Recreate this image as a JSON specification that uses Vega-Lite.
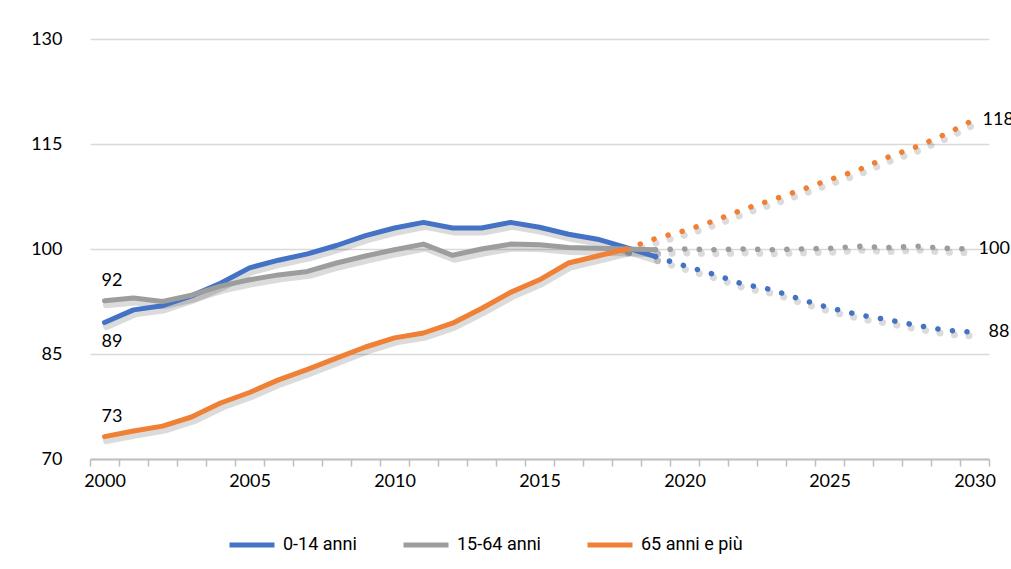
{
  "$schema": "https://vega.github.io/schema/vega-lite/v6.json",
  "width": 899,
  "height": 420,
  "autosize": {"type": "none"},
  "padding": {"left": 90, "top": 39, "right": 22, "bottom": 110},
  "background": "white",
  "config": {"view": {"stroke": null}, "font": "Lato"},
  "datasets": {
    "series": [
      {"y": 2000, "v": 89.5, "s": "0-14 anni", "k": "obs"},
      {"y": 2001, "v": 91.3, "s": "0-14 anni", "k": "obs"},
      {"y": 2002, "v": 91.9, "s": "0-14 anni", "k": "obs"},
      {"y": 2003, "v": 93.3, "s": "0-14 anni", "k": "obs"},
      {"y": 2004, "v": 95.1, "s": "0-14 anni", "k": "obs"},
      {"y": 2005, "v": 97.3, "s": "0-14 anni", "k": "obs"},
      {"y": 2006, "v": 98.4, "s": "0-14 anni", "k": "obs"},
      {"y": 2007, "v": 99.3, "s": "0-14 anni", "k": "obs"},
      {"y": 2008, "v": 100.5, "s": "0-14 anni", "k": "obs"},
      {"y": 2009, "v": 101.9, "s": "0-14 anni", "k": "obs"},
      {"y": 2010, "v": 103.0, "s": "0-14 anni", "k": "obs"},
      {"y": 2011, "v": 103.8, "s": "0-14 anni", "k": "obs"},
      {"y": 2012, "v": 103.0, "s": "0-14 anni", "k": "obs"},
      {"y": 2013, "v": 103.0, "s": "0-14 anni", "k": "obs"},
      {"y": 2014, "v": 103.8, "s": "0-14 anni", "k": "obs"},
      {"y": 2015, "v": 103.1, "s": "0-14 anni", "k": "obs"},
      {"y": 2016, "v": 102.1, "s": "0-14 anni", "k": "obs"},
      {"y": 2017, "v": 101.4, "s": "0-14 anni", "k": "obs"},
      {"y": 2018, "v": 100.2, "s": "0-14 anni", "k": "obs"},
      {"y": 2019, "v": 98.9, "s": "0-14 anni", "k": "obs"},
      {"y": 2019, "v": 98.9, "s": "0-14 anni", "k": "proj"},
      {"y": 2020, "v": 97.6, "s": "0-14 anni", "k": "proj"},
      {"y": 2021, "v": 96.4, "s": "0-14 anni", "k": "proj"},
      {"y": 2022, "v": 95.0, "s": "0-14 anni", "k": "proj"},
      {"y": 2023, "v": 94.2, "s": "0-14 anni", "k": "proj"},
      {"y": 2024, "v": 92.8, "s": "0-14 anni", "k": "proj"},
      {"y": 2025, "v": 91.6, "s": "0-14 anni", "k": "proj"},
      {"y": 2026, "v": 90.6, "s": "0-14 anni", "k": "proj"},
      {"y": 2027, "v": 89.9, "s": "0-14 anni", "k": "proj"},
      {"y": 2028, "v": 89.1, "s": "0-14 anni", "k": "proj"},
      {"y": 2029, "v": 88.4, "s": "0-14 anni", "k": "proj"},
      {"y": 2030, "v": 88.1, "s": "0-14 anni", "k": "proj"},
      {"y": 2000, "v": 92.6, "s": "15-64 anni", "k": "obs"},
      {"y": 2001, "v": 93.0, "s": "15-64 anni", "k": "obs"},
      {"y": 2002, "v": 92.5, "s": "15-64 anni", "k": "obs"},
      {"y": 2003, "v": 93.4, "s": "15-64 anni", "k": "obs"},
      {"y": 2004, "v": 94.7, "s": "15-64 anni", "k": "obs"},
      {"y": 2005, "v": 95.6, "s": "15-64 anni", "k": "obs"},
      {"y": 2006, "v": 96.3, "s": "15-64 anni", "k": "obs"},
      {"y": 2007, "v": 96.8, "s": "15-64 anni", "k": "obs"},
      {"y": 2008, "v": 98.0, "s": "15-64 anni", "k": "obs"},
      {"y": 2009, "v": 99.0, "s": "15-64 anni", "k": "obs"},
      {"y": 2010, "v": 99.9, "s": "15-64 anni", "k": "obs"},
      {"y": 2011, "v": 100.7, "s": "15-64 anni", "k": "obs"},
      {"y": 2012, "v": 99.1, "s": "15-64 anni", "k": "obs"},
      {"y": 2013, "v": 100.0, "s": "15-64 anni", "k": "obs"},
      {"y": 2014, "v": 100.7, "s": "15-64 anni", "k": "obs"},
      {"y": 2015, "v": 100.6, "s": "15-64 anni", "k": "obs"},
      {"y": 2016, "v": 100.2, "s": "15-64 anni", "k": "obs"},
      {"y": 2017, "v": 100.1, "s": "15-64 anni", "k": "obs"},
      {"y": 2018, "v": 100.0, "s": "15-64 anni", "k": "obs"},
      {"y": 2019, "v": 99.9, "s": "15-64 anni", "k": "obs"},
      {"y": 2019, "v": 99.9, "s": "15-64 anni", "k": "proj"},
      {"y": 2020, "v": 100.0, "s": "15-64 anni", "k": "proj"},
      {"y": 2021, "v": 99.9, "s": "15-64 anni", "k": "proj"},
      {"y": 2022, "v": 100.0, "s": "15-64 anni", "k": "proj"},
      {"y": 2023, "v": 99.9, "s": "15-64 anni", "k": "proj"},
      {"y": 2024, "v": 100.0, "s": "15-64 anni", "k": "proj"},
      {"y": 2025, "v": 100.1, "s": "15-64 anni", "k": "proj"},
      {"y": 2026, "v": 100.4, "s": "15-64 anni", "k": "proj"},
      {"y": 2027, "v": 100.2, "s": "15-64 anni", "k": "proj"},
      {"y": 2028, "v": 100.4, "s": "15-64 anni", "k": "proj"},
      {"y": 2029, "v": 100.1, "s": "15-64 anni", "k": "proj"},
      {"y": 2030, "v": 100.0, "s": "15-64 anni", "k": "proj"},
      {"y": 2000, "v": 73.2, "s": "65 anni e più", "k": "obs"},
      {"y": 2001, "v": 74.0, "s": "65 anni e più", "k": "obs"},
      {"y": 2002, "v": 74.7, "s": "65 anni e più", "k": "obs"},
      {"y": 2003, "v": 76.0, "s": "65 anni e più", "k": "obs"},
      {"y": 2004, "v": 78.0, "s": "65 anni e più", "k": "obs"},
      {"y": 2005, "v": 79.5, "s": "65 anni e più", "k": "obs"},
      {"y": 2006, "v": 81.3, "s": "65 anni e più", "k": "obs"},
      {"y": 2007, "v": 82.8, "s": "65 anni e più", "k": "obs"},
      {"y": 2008, "v": 84.4, "s": "65 anni e più", "k": "obs"},
      {"y": 2009, "v": 86.0, "s": "65 anni e più", "k": "obs"},
      {"y": 2010, "v": 87.3, "s": "65 anni e più", "k": "obs"},
      {"y": 2011, "v": 88.0, "s": "65 anni e più", "k": "obs"},
      {"y": 2012, "v": 89.4, "s": "65 anni e più", "k": "obs"},
      {"y": 2013, "v": 91.5, "s": "65 anni e più", "k": "obs"},
      {"y": 2014, "v": 93.8, "s": "65 anni e più", "k": "obs"},
      {"y": 2015, "v": 95.6, "s": "65 anni e più", "k": "obs"},
      {"y": 2016, "v": 98.0, "s": "65 anni e più", "k": "obs"},
      {"y": 2017, "v": 99.0, "s": "65 anni e più", "k": "obs"},
      {"y": 2018, "v": 100.0, "s": "65 anni e più", "k": "obs"},
      {"y": 2018, "v": 100.0, "s": "65 anni e più", "k": "proj"},
      {"y": 2019, "v": 101.5, "s": "65 anni e più", "k": "proj"},
      {"y": 2020, "v": 102.6, "s": "65 anni e più", "k": "proj"},
      {"y": 2021, "v": 104.0, "s": "65 anni e più", "k": "proj"},
      {"y": 2022, "v": 105.6, "s": "65 anni e più", "k": "proj"},
      {"y": 2023, "v": 107.0, "s": "65 anni e più", "k": "proj"},
      {"y": 2024, "v": 108.4, "s": "65 anni e più", "k": "proj"},
      {"y": 2025, "v": 109.9, "s": "65 anni e più", "k": "proj"},
      {"y": 2026, "v": 111.3, "s": "65 anni e più", "k": "proj"},
      {"y": 2027, "v": 113.1, "s": "65 anni e più", "k": "proj"},
      {"y": 2028, "v": 114.6, "s": "65 anni e più", "k": "proj"},
      {"y": 2029, "v": 116.4, "s": "65 anni e più", "k": "proj"},
      {"y": 2030, "v": 118.5, "s": "65 anni e più", "k": "proj"}
    ],
    "labels": [
      {"y": 2000, "v": 92.6, "t": "92", "p": "above"},
      {"y": 2000, "v": 73.2, "t": "73", "p": "above"},
      {"y": 2000, "v": 89.5, "t": "89", "p": "below"},
      {"y": 2030, "v": 118.5, "t": "118", "p": "r1"},
      {"y": 2030, "v": 100.0, "t": "100", "p": "r2"},
      {"y": 2030, "v": 88.1, "t": "88", "p": "r3"}
    ]
  },
  "encoding": {
    "x": {
      "field": "y",
      "type": "ordinal",
      "scale": {"type": "band", "paddingInner": 0, "paddingOuter": 0},
      "axis": {
        "title": null,
        "tickBand": "extent",
        "labelExpr": "datum.value % 5 == 0 ? datum.label : ''",
        "labelAngle": 0,
        "labelOverlap": false,
        "labelFont": "Lato",
        "labelFontSize": 18,
        "labelColor": "#000000",
        "labelPadding": 6,
        "tickSize": 7,
        "tickColor": "#BFBFBF",
        "tickWidth": 1.5,
        "domainColor": "#BFBFBF",
        "domainWidth": 2,
        "grid": false
      }
    },
    "y": {
      "field": "v",
      "type": "quantitative",
      "scale": {"domain": [70, 130], "nice": false, "zero": false},
      "axis": {
        "title": null,
        "values": [70, 85, 100, 115, 130],
        "domain": false,
        "ticks": false,
        "grid": true,
        "gridColor": "#D9D9D9",
        "gridWidth": 1.5,
        "labelPadding": 28,
        "labelFont": "Lato",
        "labelFontSize": 18,
        "labelColor": "#000000"
      }
    }
  },
  "layer": [
    {
      "data": {"name": "series"},
      "transform": [{"filter": "datum.k == 'obs'"}],
      "mark": {"type": "line", "color": "#000000", "opacity": 0.14, "strokeWidth": 7, "xOffset": 2, "yOffset": 4, "strokeCap": "round", "strokeJoin": "round"},
      "encoding": {"detail": {"field": "s"}}
    },
    {
      "data": {"name": "series"},
      "transform": [{"filter": "datum.k == 'proj'"}],
      "mark": {"type": "line", "color": "#000000", "opacity": 0.14, "strokeWidth": 7, "xOffset": 2, "yOffset": 4, "strokeCap": "round", "strokeDash": [0.1, 14.5]},
      "encoding": {"detail": {"field": "s"}}
    },
    {
      "data": {"name": "series"},
      "transform": [{"filter": "datum.k == 'obs'"}],
      "mark": {"type": "line", "strokeWidth": 5, "strokeCap": "round", "strokeJoin": "round"},
      "encoding": {
        "color": {
          "field": "s",
          "type": "nominal",
          "scale": {"domain": ["0-14 anni", "15-64 anni", "65 anni e più"], "range": ["#4472C4", "#9C9E9E", "#F08035"]},
          "legend": {
            "title": null,
            "orient": "none",
            "legendX": 137,
            "legendY": 481,
            "direction": "horizontal",
            "columns": 3,
            "symbolType": "stroke",
            "symbolStrokeWidth": 5,
            "symbolSize": 2025,
            "symbolDash": [],
            "labelFont": "Roboto",
            "labelFontSize": 18,
            "labelColor": "#000000",
            "labelOffset": 6,
            "columnPadding": 36,
            "padding": 0
          }
        }
      }
    },
    {
      "data": {"name": "series"},
      "transform": [{"filter": "datum.k == 'proj'"}],
      "mark": {"type": "line", "strokeWidth": 5.5, "strokeCap": "round", "strokeDash": [0.1, 14.5]},
      "encoding": {
        "color": {"field": "s", "type": "nominal", "legend": null}
      }
    },
    {
      "data": {"name": "labels"},
      "transform": [{"filter": "datum.p == 'above'"}],
      "mark": {"type": "text", "align": "left", "baseline": "middle", "dx": -3, "dy": -20, "font": "Lato", "fontSize": 18, "color": "#000000"},
      "encoding": {"text": {"field": "t"}}
    },
    {
      "data": {"name": "labels"},
      "transform": [{"filter": "datum.p == 'below'"}],
      "mark": {"type": "text", "align": "left", "baseline": "middle", "dx": -3, "dy": 19, "font": "Lato", "fontSize": 18, "color": "#000000"},
      "encoding": {"text": {"field": "t"}}
    },
    {
      "data": {"name": "labels"},
      "transform": [{"filter": "datum.p == 'r1'"}],
      "mark": {"type": "text", "align": "left", "baseline": "middle", "dx": 8, "font": "Lato", "fontSize": 18, "color": "#000000"},
      "encoding": {"text": {"field": "t"}}
    },
    {
      "data": {"name": "labels"},
      "transform": [{"filter": "datum.p == 'r2'"}],
      "mark": {"type": "text", "align": "left", "baseline": "middle", "dx": 4, "font": "Lato", "fontSize": 18, "color": "#000000"},
      "encoding": {"text": {"field": "t"}}
    },
    {
      "data": {"name": "labels"},
      "transform": [{"filter": "datum.p == 'r3'"}],
      "mark": {"type": "text", "align": "left", "baseline": "middle", "dx": 14, "font": "Lato", "fontSize": 18, "color": "#000000"},
      "encoding": {"text": {"field": "t"}}
    }
  ]
}
